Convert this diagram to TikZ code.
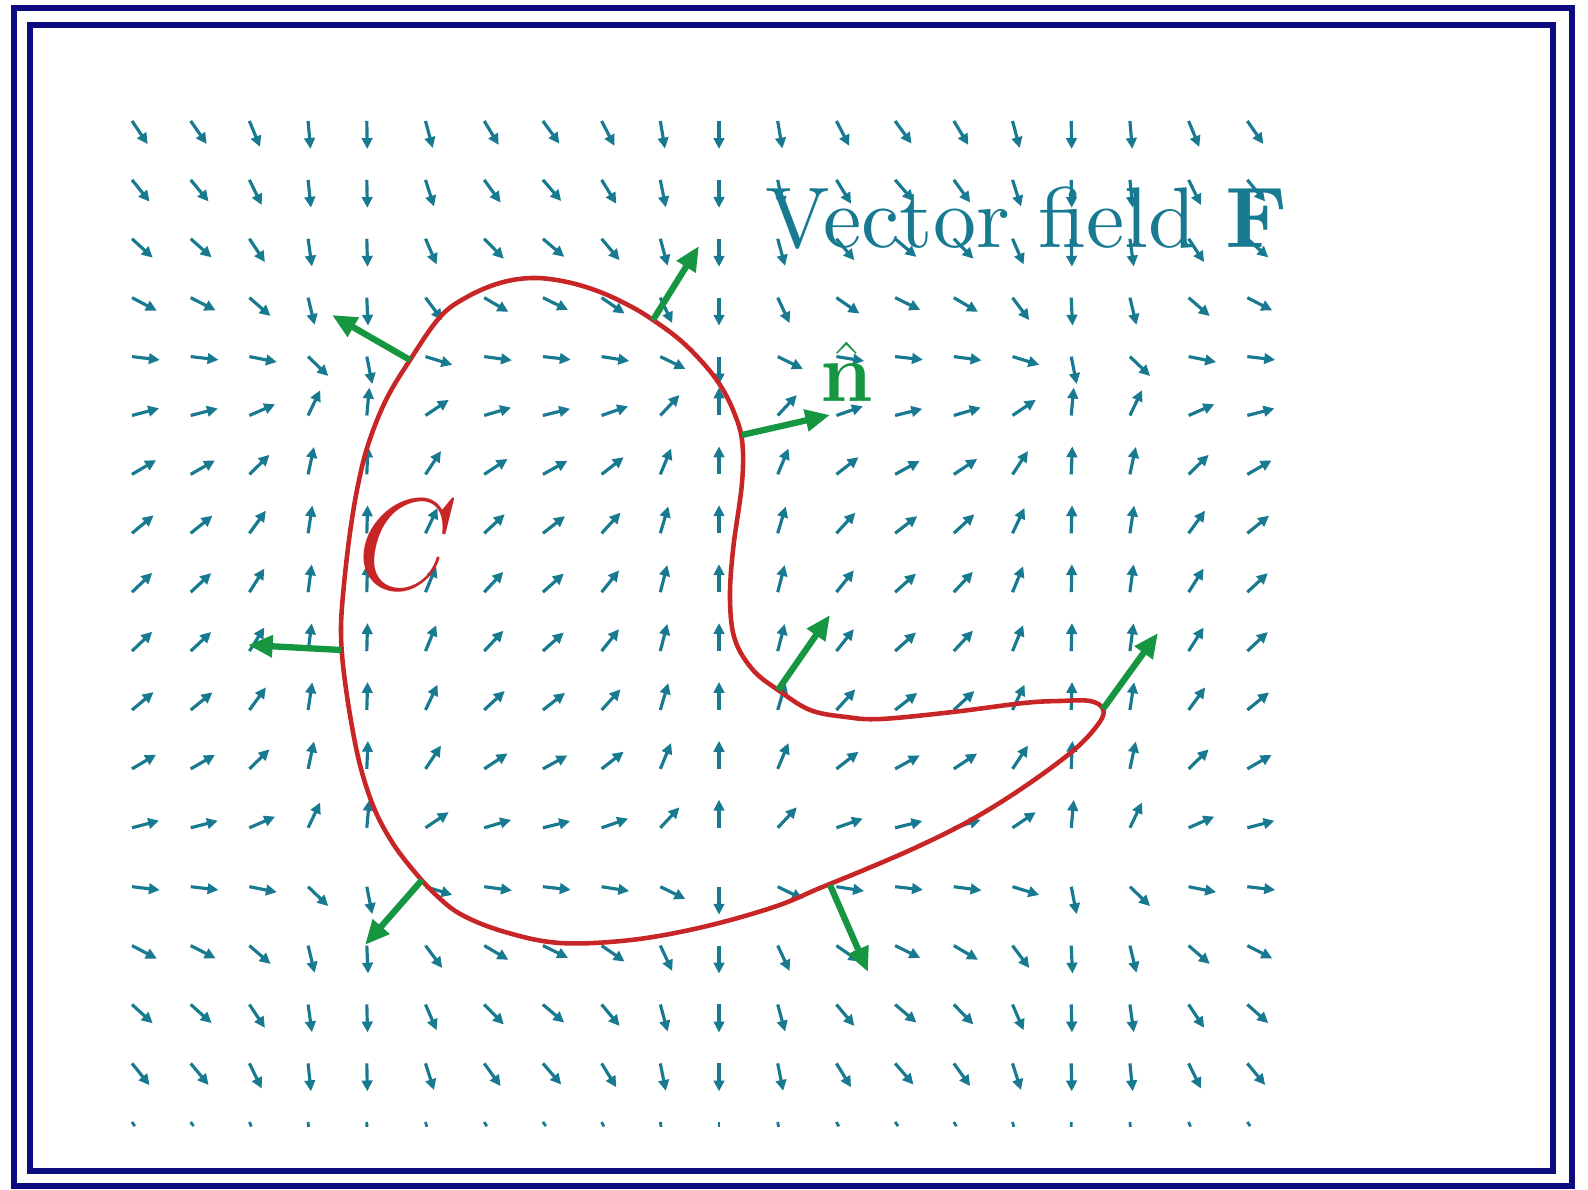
\RequirePackage{fix-cm}
\documentclass[tikz,border=0pt]{standalone}
\usepackage{xcolor}
\usepackage{tikz}
\usetikzlibrary{arrows.meta}

\definecolor{fieldteal}{RGB}{24,122,145}
\definecolor{curvered}{RGB}{200,38,38}
\definecolor{normalgreen}{RGB}{22,150,64}
\definecolor{framenavy}{RGB}{12,12,128}

% 10pt design of Latin Modern, scaled up
\font\titlerm="[lmroman10-regular]:+tlig;" at 24.5pt
\font\titlebf="[lmroman10-bold]:+tlig;" at 24.5pt

\begin{document}
\begin{tikzpicture}[
  fvec/.style={fieldteal,line width=0.9pt,-{Triangle[length=3.1pt,width=3pt]}},
  fdot/.style={fieldteal,line width=0.8pt},
  curve/.style={curvered,line width=1.3pt},
  normal/.style={normalgreen,line width=1.8pt,-{Triangle[length=7pt,width=6pt]}},
  frame/.style={framenavy,line width=1.8pt},
  lbl/.style={inner sep=0pt},
]
\useasboundingbox (0,0) rectangle (15.88,11.90);

% double frame
\draw[frame] (0.14,0.04) rectangle (15.72,11.82);
\draw[frame] (0.30,0.19) rectangle (15.53,11.65);

% vector field F, each arrow starts at its grid point
\foreach \i in {0,...,19}{
  \pgfmathsetmacro\fu{pow(sin(28.57*(\i-10)),2)}
  \foreach \j in {0,...,16}{
    \pgfmathsetmacro\fv{1.2*(cos(18*(\j-8.5))-0.25)}
    \pgfmathsetmacro\fa{atan2(\fv,\fu)}
    \draw[fvec] (1.32+0.587*\i,10.69-0.589*\j) -- ++(\fa:0.28);
  }
  % bottom row, nearly zero
  \pgfmathsetmacro\fa{atan2(-1.37,\fu)}
  \draw[fdot] (1.32+0.587*\i,0.68) -- ++(\fa:0.05);
}

% the closed curve C
\draw[curve] plot[smooth cycle, tension=0.6] coordinates {
  (5.33,9.12) (5.67,9.08) (6.00,8.98) (6.30,8.84) (6.53,8.70)
  (6.80,8.50) (7.03,8.27) (7.20,8.05) (7.33,7.80) (7.42,7.50)
  (7.42,7.07) (7.33,6.40) (7.30,5.90) (7.35,5.50) (7.53,5.20)
  (7.78,5.00) (8.10,4.80) (8.46,4.73) (8.81,4.71) (9.53,4.78)
  (10.24,4.87) (10.60,4.89) (10.90,4.89) (11.03,4.81) (10.99,4.67)
  (10.74,4.40) (10.24,4.03) (9.71,3.70) (9.17,3.43) (8.64,3.20)
  (8.20,3.02) (7.74,2.83) (7.03,2.63) (6.31,2.50) (5.60,2.47)
  (5.05,2.58) (4.62,2.75) (4.36,2.95) (4.13,3.20) (3.92,3.48)
  (3.74,3.82) (3.60,4.25) (3.50,4.75) (3.43,5.25) (3.41,5.60)
  (3.43,5.95) (3.49,6.50) (3.57,7.00) (3.68,7.45) (3.86,7.90)
  (4.10,8.30) (4.40,8.73) (4.67,8.93) (5.00,9.07)};

% outward normals: foot on C, tip outside
\foreach \k/\fx/\fy/\tx/\ty in {
  1/4.10/8.30/3.32/8.75, 2/6.53/8.70/6.99/9.44,
  3/7.42/7.55/8.30/7.75, 4/7.78/5.00/8.30/5.75,
  5/11.03/4.81/11.58/5.57, 6/8.30/3.05/8.68/2.18,
  7/4.22/3.10/3.65/2.45, 8/3.41/5.40/2.48/5.45}{
  \coordinate (f\k) at (\fx,\fy);
  \coordinate (t\k) at (\tx,\ty);
  \draw[normal] (f\k) -- (t\k);
}

% labels
\node[lbl,fieldteal,anchor=base west] (title) at (7.65,9.42) {\titlerm Vector field \titlebf F};
\node[lbl,normalgreen,anchor=base west,font=\fontsize{24}{28}\selectfont] (nhat) at (8.20,7.88) {$\hat{\mathbf{n}}$};
\node[lbl,curvered,font=\fontsize{37}{44}\selectfont] (clabel) at (4.075,6.445) {$C$};
\end{tikzpicture}
\end{document}
